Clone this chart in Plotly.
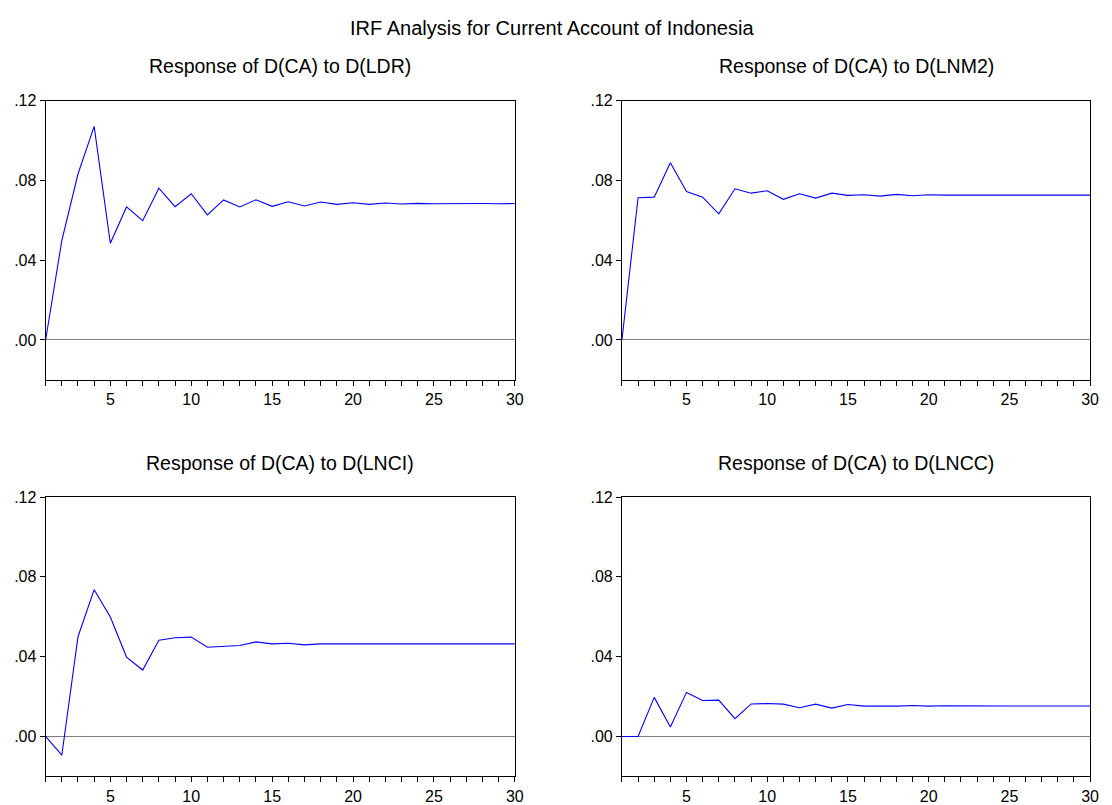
import plotly.graph_objects as go

periods = list(range(1, 31))

resp_ldr = [0.0, 0.0498, 0.0832, 0.1071, 0.0485, 0.0667, 0.0598, 0.0761, 0.0668, 0.0733,
            0.0627, 0.0702, 0.0667, 0.0703, 0.0670, 0.0693, 0.0672, 0.0692, 0.0680, 0.0688,
            0.0680, 0.0687, 0.0682, 0.0685, 0.0683, 0.0684, 0.0683, 0.0684, 0.0683, 0.0684]

resp_lnm2 = [0.0, 0.0713, 0.0716, 0.0888, 0.0744, 0.0716, 0.0632, 0.0758, 0.0736, 0.0748,
             0.0705, 0.0733, 0.0711, 0.0736, 0.0725, 0.0728, 0.0721, 0.0730, 0.0723, 0.0728,
             0.0726, 0.0726, 0.0726, 0.0727, 0.0726, 0.0726, 0.0726, 0.0726, 0.0726, 0.0726]

resp_lnci = [0.0, -0.0094, 0.0500, 0.0736, 0.0599, 0.0398, 0.0333, 0.0482, 0.0495, 0.0498,
             0.0447, 0.0450, 0.0456, 0.0474, 0.0464, 0.0467, 0.0459, 0.0464, 0.0464, 0.0465,
             0.0464, 0.0464, 0.0464, 0.0465, 0.0464, 0.0464, 0.0464, 0.0464, 0.0464, 0.0464]

resp_lncc = [0.0, 0.0, 0.0196, 0.0048, 0.0221, 0.0180, 0.0182, 0.0089, 0.0163, 0.0165,
             0.0162, 0.0144, 0.0162, 0.0142, 0.0160, 0.0152, 0.0153, 0.0152, 0.0155, 0.0152,
             0.0154, 0.0153, 0.0153, 0.0153, 0.0153, 0.0153, 0.0153, 0.0153, 0.0153, 0.0153]

panel_titles = ["Response of D(CA) to D(LDR)", "Response of D(CA) to D(LNM2)",
                "Response of D(CA) to D(LNCI)", "Response of D(CA) to D(LNCC)"]
main_title = "IRF Analysis for Current Account of Indonesia"
series = [resp_ldr, resp_lnm2, resp_lnci, resp_lncc]

y_tickvals = [0.0, 0.04, 0.08, 0.12]
y_ticktext = [".00", ".04", ".08", ".12"]
x_tickvals = periods
x_ticktext = [str(p) if p % 5 == 0 else "" for p in periods]

W, H = 1112, 805
# pixel boxes (left, right, top, bottom)
boxes = [(46, 519, 94, 377.5), (627, 1099, 94, 377.5),
         (46, 519, 496.5, 780), (627, 1099, 496.5, 780)]

FONT = "Liberation Sans, Arial, sans-serif"
fig = go.Figure()
annotations = []
for i, (vals, title, box) in enumerate(zip(series, panel_titles, boxes)):
    n = i + 1
    xa = "x" if n == 1 else f"x{n}"
    ya = "y" if n == 1 else f"y{n}"
    fig.add_trace(go.Scatter(x=periods, y=vals, mode="lines",
                             line=dict(color="#0000ff", width=1.1),
                             xaxis=xa, yaxis=ya, showlegend=False, hoverinfo="skip"))
    l, r, t, b = box
    xdom = [l / W, r / W]
    ydom = [1 - b / H, 1 - t / H]
    axis_common = dict(showgrid=False, showline=True, linecolor="black", linewidth=1,
                       mirror=True, ticks="outside", tickcolor="black", ticklen=5,
                       tickwidth=1, tickfont=dict(family=FONT, size=16, color="black"))
    xkey = "xaxis" if n == 1 else f"xaxis{n}"
    ykey = "yaxis" if n == 1 else f"yaxis{n}"
    fig.update_layout(**{
        xkey: dict(domain=xdom, anchor=ya, range=[1, 30], tickmode="array",
                   tickvals=x_tickvals, ticktext=x_ticktext, zeroline=False, **axis_common),
        ykey: dict(domain=ydom, anchor=xa, range=[-0.02, 0.12], tickmode="array",
                   tickvals=y_tickvals, ticktext=y_ticktext, zeroline=True,
                   zerolinecolor="#7f7f7f", zerolinewidth=1, **axis_common),
    })
    annotations.append(dict(text=title, x=(l + r) / 2 / W, y=1 - (t - 35) / H,
                            xref="paper", yref="paper", showarrow=False,
                            xanchor="center", yanchor="middle",
                            font=dict(family=FONT, size=19.5, color="black")))

annotations.append(dict(text=main_title,
                        x=556 / W, y=1 - 20 / H, xref="paper", yref="paper",
                        showarrow=False, xanchor="center", yanchor="middle",
                        font=dict(family=FONT, size=20, color="black")))

fig.update_layout(width=W, height=H, margin=dict(l=0, r=0, t=0, b=0),
                  paper_bgcolor="white", plot_bgcolor="white",
                  annotations=annotations, showlegend=False)

fig.write_html("out.html")
